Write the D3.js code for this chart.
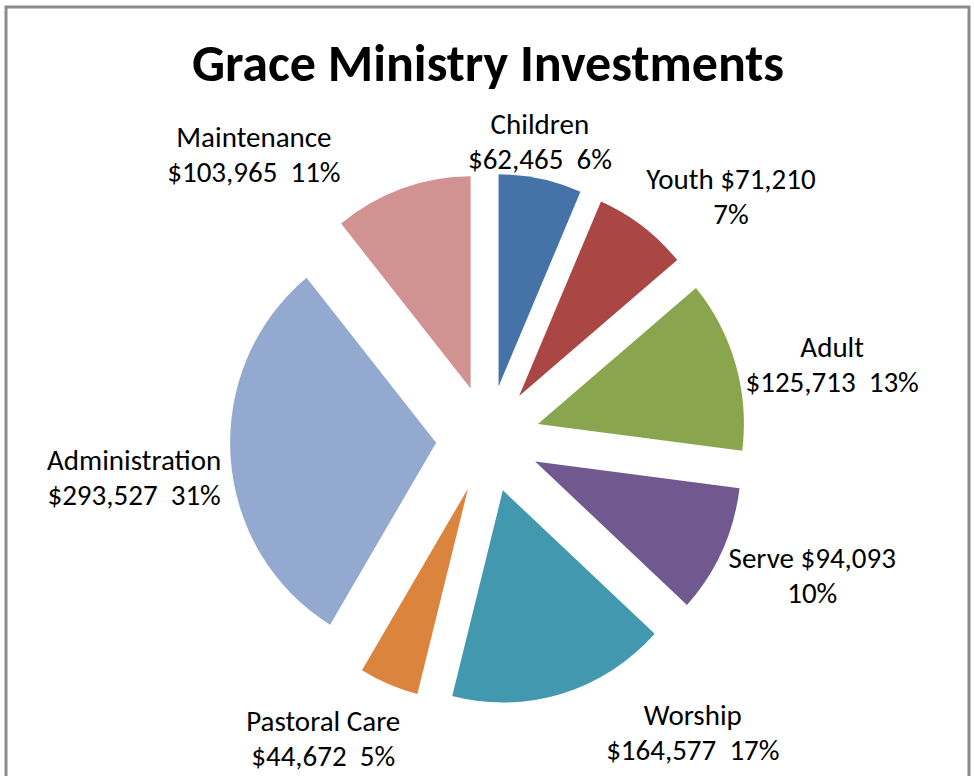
<!DOCTYPE html>
<html>
<head>
<meta charset="utf-8">
<script src="https://cdn.jsdelivr.net/npm/d3@7"></script>
<style>
  html, body { margin: 0; padding: 0; background: #fff; }
  svg text { font-family: Carlito, Calibri, Lato, "Open Sans", sans-serif; fill: #000; }
</style>
</head>
<body>
<svg id="chart" width="974" height="776"></svg>
<script>
// ---- Data ----
const categories = ["Children", "Youth", "Adult", "Serve", "Worship",
                    "Pastoral Care", "Administration", "Maintenance"];
const amounts = [62465, 71210, 125713, 94093, 164577, 44672, 293527, 103965];
const percents = ["6%", "7%", "13%", "10%", "17%", "5%", "31%", "11%"];
const colors = ["#4572A7", "#AA4643", "#89A54E", "#71588F",
                "#4198AF", "#DB843D", "#93A9CF", "#D19392"];

// where Excel wrapped each label: after the name, or after the amount
const wrapAfter = ["name", "amount", "name", "amount", "name", "name", "name", "name"];
// label block centres, polar around the pie centre: [angle deg, distance]
const labelPolar = [[9.9, 302], [45.1, 343], [77.9, 352], [112.9, 352],
                    [145.1, 358], [208.8, 342], [263.7, 356], [320.5, 368]];

// ---- Layout ----
const W = 974, H = 776;
const cx = 488, cy = 439;
const radius = 206;
const yStretch = 1.03;   // the picture is a touch taller than wide
const explode = 52;
const fmt = d3.format("$,");

const svg = d3.select("#chart");

// chart area frame
svg.append("rect")
    .attr("x", 6).attr("y", 7)
    .attr("width", 963).attr("height", H + 20)
    .attr("fill", "none")
    .attr("stroke", "#8c8c8c")
    .attr("stroke-width", 3);

svg.append("text")
    .attr("x", 488).attr("y", 81)
    .attr("text-anchor", "middle")
    .style("font-size", "52px")
    .style("font-weight", "bold")
    .text("Grace Ministry Investments");

const pie = d3.pie().sort(null).value(d => d.amount);
const rows = categories.map((c, i) => ({
    name: c, amount: amounts[i], pct: percents[i], color: colors[i],
    wrap: wrapAfter[i], lp: labelPolar[i]
}));
const arcs = pie(rows);
const arc = d3.arc().innerRadius(0).outerRadius(radius);

const g = svg.append("g")
    .attr("transform", `translate(${cx},${cy}) scale(1,${yStretch})`);

g.selectAll("path")
    .data(arcs)
    .join("path")
    .attr("d", arc)
    .attr("fill", d => d.data.color)
    .attr("transform", d => {
        const a = (d.startAngle + d.endAngle) / 2;
        return `translate(${explode * Math.sin(a)},${-explode * Math.cos(a)})`;
    });

// ---- Labels ----
const fs = 29, lineGap = 35;
const labels = svg.append("g")
    .attr("transform", `translate(${cx},${cy})`)
    .selectAll("text")
    .data(arcs)
    .join("text")
    .attr("text-anchor", "middle")
    .style("font-size", fs + "px")
    .attr("transform", d => {
        const a = d.data.lp[0] * Math.PI / 180, r = d.data.lp[1];
        return `translate(${r * Math.sin(a)},${-r * Math.cos(a)})`;
    });

labels.each(function (d) {
    const v = d.data;
    const lines = v.wrap === "name"
        ? [v.name, `${fmt(v.amount)}\u00a0\u00a0${v.pct}`]
        : [`${v.name} ${fmt(v.amount)}`, v.pct];
    d3.select(this).selectAll("tspan")
        .data(lines)
        .join("tspan")
        .attr("x", 0)
        .attr("y", (l, i) => (i - 0.5) * lineGap + fs * 0.33)
        .text(l => l);
});
</script>
</body>
</html>
